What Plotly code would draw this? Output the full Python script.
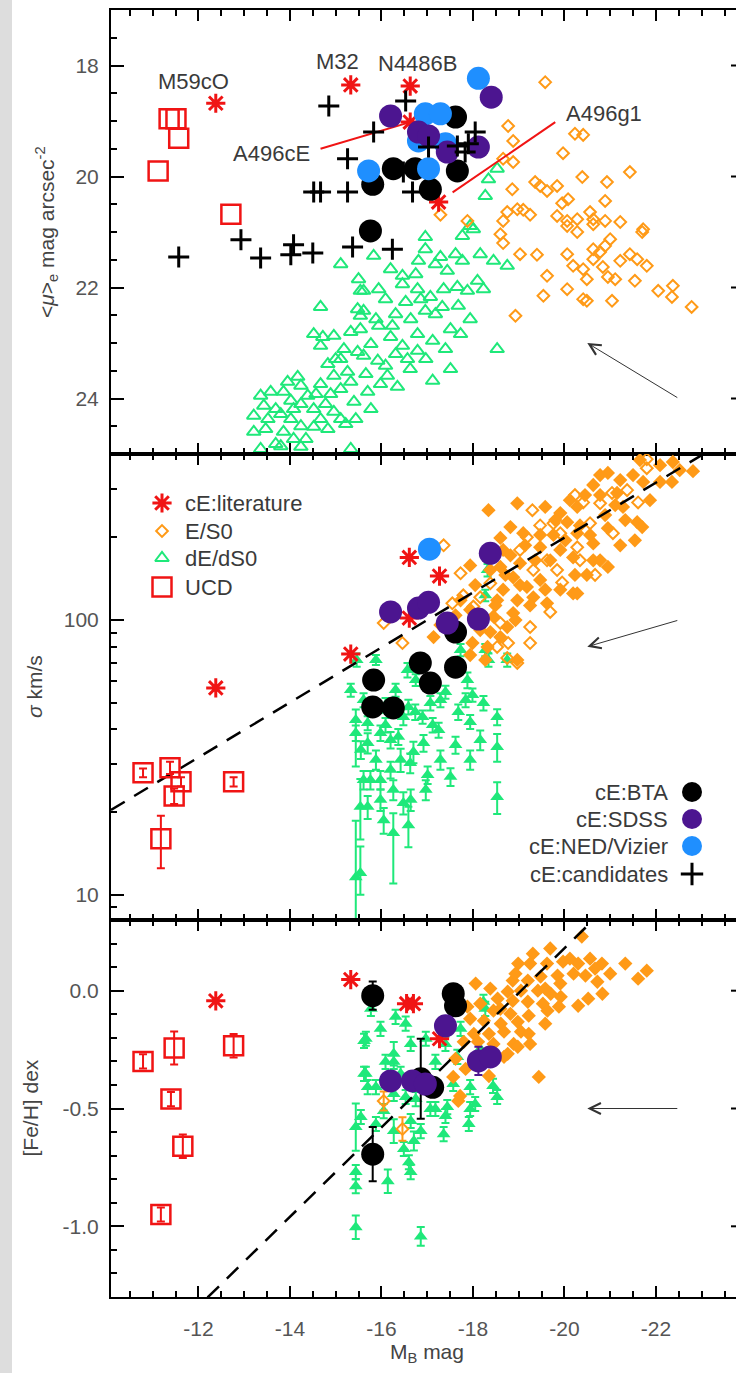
import math
import plotly.graph_objects as go

FIG_W, FIG_H = 736, 1373
FONT = "Liberation Sans, Arial, Helvetica, sans-serif"

RED = "#f01414"
ORANGE = "#ff9a17"
GREEN = "#1fe87a"
PURPLE = "#4c1590"
BLUE = "#1f8fff"
BLACK = "#000000"
TEXT = "#3a3a3a"
TICKTEXT = "#555555"

# ------------------------------------------------------------------
# Panel 1: mean effective surface brightness <mu>_e vs M_B
# ------------------------------------------------------------------
top_ucd_mb = [-11.36, -11.51, -11.57, -11.12, -12.71]
top_ucd_mu = [18.96, 18.96, 19.31, 19.90, 20.68]

top_lit_names = ["M59cO", "M32", "N4486B", "A496cE", "A496g1"]
top_lit_mb = [-12.38, -15.33, -16.63, -16.63, -17.25]
top_lit_mu = [18.68, 18.35, 18.37, 19.02, 20.46]

top_es0_mb = [-19.58, -18.77, -20.23, -20.41, -18.88, -19.97, -18.66, -18.88, -21.43, -20.39,
              -20.93, -19.36, -19.47, -19.62, -19.84, -18.86, -19.95, -20.08, -20.89, -17.29,
              -17.88, -18.75, -18.97, -19.10, -19.25, -19.84, -20.06, -20.28, -20.56, -20.63,
              -20.89, -21.22, -21.72, -18.66, -20.06, -20.28, -20.63, -21.70, -18.60, -18.66,
              -19.03, -19.40, -20.06, -20.19, -20.41, -20.63, -20.78, -20.89, -21.00, -20.63,
              -20.84, -20.95, -21.11, -21.22, -21.43, -21.59, -21.80, -19.62, -20.49, -21.54,
              -20.06, -19.54, -20.41, -20.49, -21.04, -22.05, -22.37, -22.35, -22.78, -18.93]
top_es0_mu = [18.30, 19.09, 19.23, 19.25, 19.36, 19.58, 19.68, 19.74, 19.92, 20.01,
              20.10, 20.10, 20.17, 20.26, 20.17, 20.23, 20.48, 20.41, 20.44, 20.69,
              20.80, 20.64, 20.59, 20.60, 20.69, 20.71, 20.80, 20.77, 20.64, 20.77,
              20.80, 20.82, 20.95, 20.80, 20.89, 21.00, 20.86, 21.00, 21.04, 21.20,
              21.40, 21.41, 21.40, 21.61, 21.67, 21.31, 21.36, 21.25, 21.13, 21.49,
              21.63, 21.81, 21.85, 21.52, 21.40, 21.49, 21.61, 21.79, 21.85, 21.88,
              22.03, 22.15, 22.21, 22.24, 22.24, 22.06, 21.97, 22.17, 22.35, 22.51]

top_de_mb = [-15.83, -16.96, -16.96, -17.77, -18.01, -17.77, -18.16, -18.45, -18.75, -17.44,
             -16.46, -16.46, -15.94, -15.61, -16.79, -17.07, -17.36, -17.66, -17.88, -18.10,
             -18.23, -16.53, -16.96, -17.33, -17.68, -17.94, -15.61, -15.94, -16.24, -16.20,
             -16.79, -17.12, -16.46, -16.79, -16.57, -15.61, -15.92, -16.09, -16.63, -16.13,
             -16.35, -17.51, -17.12, -18.53, -15.70, -18.34, -18.27, -18.53, -17.94, -15.11,
             -14.67, -15.50, -15.54, -15.48, -15.54, -14.52, -14.72, -14.96, -14.67, -15.33,
             -15.54, -15.18, -15.48, -14.83, -15.11, -14.96, -15.26, -14.67, -15.11, -15.33,
             -15.40, -14.17, -13.95, -14.24, -13.36, -13.58, -13.86, -13.43, -14.02, -14.39,
             -13.21, -13.52, -13.80, -14.08, -14.52, -14.67, -14.96, -15.11, -14.24, -14.52,
             -14.83, -13.21, -13.86, -14.08, -13.36, -13.80, -14.24, -15.33, -17.29, -16.81,
             -13.47, -13.69, -14.02, -14.35, -14.57, -14.78, -14.89, -15.22, -15.44, -15.00,
             -15.66, -15.77, -15.88, -16.09, -16.31, -16.64, -16.86, -17.18, -17.51, -17.40,
             -17.73, -16.97, -16.31, -15.98, -15.77, -16.75, -17.18, -17.62, -16.20, -14.24,
             -13.69]
top_de_mu = [21.43, 21.09, 21.31, 21.07, 20.95, 21.52, 21.40, 21.52, 21.61, 21.70,
             21.79, 21.94, 22.03, 22.06, 22.03, 22.17, 22.03, 21.99, 22.06, 21.88,
             22.03, 22.26, 22.42, 22.35, 22.33, 22.57, 22.42, 22.69, 22.69, 22.89,
             22.84, 22.96, 23.05, 23.14, 23.29, 23.23, 23.32, 23.41, 23.47, 23.59,
             23.79, 23.47, 23.68, 23.11, 23.88, 20.05, 20.35, 19.86, 20.89, 21.58,
             22.35, 21.85, 22.06, 22.39, 22.51, 22.84, 22.89, 22.87, 23.05, 22.80,
             22.75, 23.11, 23.16, 23.38, 23.29, 23.59, 23.52, 23.74, 23.83, 23.70,
             24.06, 23.61, 23.70, 23.77, 23.95, 23.88, 23.88, 24.13, 24.04, 23.95,
             24.31, 24.37, 24.28, 24.19, 24.19, 24.37, 24.24, 24.37, 24.50, 24.51,
             24.55, 24.60, 24.60, 24.73, 24.91, 24.86, 24.87, 24.91, 21.45, 21.52,
             24.55, 24.19, 24.37, 24.73, 23.92, 24.10, 23.92, 24.46, 24.37, 23.29,
             23.56, 23.02, 22.57, 22.21, 22.48, 22.57, 22.21, 22.48, 22.75, 23.11,
             22.84, 23.29, 23.20, 23.74, 24.19, 21.76, 21.58, 21.40, 21.67, 24.10,
             24.82]

top_bta_mb = [-17.62, -17.66, -17.07, -16.26, -16.74, -15.81, -15.76]
top_bta_mu = [18.93, 19.90, 20.23, 19.86, 19.86, 20.14, 20.98]

top_sdss_mb = [-18.40, -16.20, -16.81, -17.03, -17.44, -18.12]
top_sdss_mu = [18.57, 18.91, 19.20, 19.27, 19.56, 19.47]

top_ned_mb = [-18.12, -16.96, -17.29, -16.81, -17.40, -15.72, -17.03]
top_ned_mu = [18.23, 18.87, 18.87, 19.36, 19.41, 19.90, 19.86]

top_cand_mb = [-14.85, -15.26, -14.52, -14.67, -15.26, -16.53, -15.83, -18.05, -17.03, -17.66,
               -17.83, -17.90, -16.68, -16.48, -11.57, -12.93, -13.36, -14.08, -14.02, -14.50,
               -15.37, -16.24]
top_cand_mu = [18.73, 19.68, 20.28, 20.28, 20.28, 18.64, 19.20, 19.20, 19.47, 19.45,
               19.56, 19.41, 20.28, 19.92, 21.45, 21.14, 21.47, 21.23, 21.41, 21.38,
               21.27, 21.31]

# ------------------------------------------------------------------
# Panel 2: central velocity dispersion sigma (km/s) vs M_B
# ------------------------------------------------------------------
sig_ucd_mb = [-10.79, -11.38, -11.62, -11.47, -12.77, -11.18]
sig_ucd = [27.8, 29.0, 25.8, 22.9, 25.8, 16.0]
sig_ucd_ep = [1.0, 1.5, 1.0, 1.5, 1.0, 3.4]
sig_ucd_em = [1.0, 1.5, 1.0, 1.5, 1.0, 3.5]

sig_lit_mb = [-12.38, -15.33, -16.61, -17.27, -16.61]
sig_lit = [56.6, 75.2, 169, 144.5, 101.7]

sig_es0o_mb = [-21.80, -19.30, -20.23, -20.41, -17.73, -16.46, -16.05, -17.55, -17.79, -18.01,
               -19.69, -19.25, -19.25, -19.95, -20.67, -18.75, -20.28, -19.76, -19.47, -21.06,
               -21.61, -17.36, -18.97, -18.77, -18.53, -18.60, -18.16, -18.38, -19.84, -20.34,
               -19.62, -19.32, -19.03, -19.18, -19.91, -20.56, -20.78, -21.04, -21.37, -21.80]
sig_es0o = [385, 251, 285, 268, 148, 82.5, 97.5, 115, 123, 112,
            107, 94.3, 82.5, 137, 146, 72.8, 184, 225, 221, 207,
            268, 187, 69.8, 82.5, 79.8, 97.5, 121, 136, 152, 165,
            165, 152, 180, 200, 207, 225, 266, 290, 297, 357]

sig_es0f_mb = [-18.34, -18.97, -19.58, -20.95, -21.50, -21.72, -22.37, -22.81, -22.35, -22.09,
               -20.63, -20.78, -21.15, -21.28, -21.59, -21.70, -20.95, -20.28, -19.91, -20.06,
               -19.76, -20.28, -20.63, -18.82, -19.10, -18.60, -18.66, -19.47, -19.91, -20.19,
               -20.63, -20.95, -20.49, -19.03, -18.60, -18.88, -19.47, -19.91, -19.18, -18.66,
               -18.53, -18.97, -19.32, -19.62, -20.19, -18.88, -18.45, -18.75, -18.38, -18.60,
               -17.99, -18.32, -18.97, -20.28, -17.44, -17.14, -17.94,
               -17.94, -18.16, -18.49, -18.71, -19.03, -19.36, -19.14, -19.69, -20.02, -20.34,
               -20.56, -20.89, -21.11, -21.33, -21.87, -22.09, -22.52, -21.22, -20.45, -20.12,
               -19.80, -19.47, -18.82, -18.38, -18.05, -17.73, -17.62, -18.93, -19.25, -19.58,
               -20.23, -20.78, -21.22, -21.54, -17.94, -18.27, -17.29, -20.78, -21.65]
sig_es0f = [251, 266, 258, 343, 337, 318, 376, 348, 318, 318,
            310, 285, 290, 258, 227, 218, 216, 258, 245, 227,
            204, 207, 190, 218, 207, 199, 180, 184, 180, 169,
            165, 156, 146, 161, 156, 143, 140, 129, 132, 129,
            118, 118, 121, 115, 125, 106, 103, 94.3, 90.4, 86.7,
            82.5, 79.8, 71.6, 125, 93.5, 86.7, 158,
            109, 92, 113, 146, 134, 165, 187, 165, 195, 221,
            204, 241, 262, 231, 273, 366, 351, 323, 285, 273,
            231, 204, 172, 152, 134, 118, 104, 100, 113, 129,
            146, 165, 187, 195, 74.6, 71.6, 96, 337, 382]

sig_de_mb = [-15.44, -15.44, -15.61, -15.54, -15.44, -15.70, -15.70, -15.98, -16.09, -16.20,
             -16.48, -16.59, -16.74, -16.90, -17.07, -17.12, -17.25, -17.40, -17.68, -17.94,
             -17.99, -18.23, -18.53, -18.53, -18.53, -17.51, -17.01, -16.63, -16.42, -16.20,
             -15.98, -15.76, -16.26, -15.98, -16.48, -15.70, -16.05, -16.59, -16.26, -15.54,
             -16.70, -16.92, -16.37, -17.73, -18.27, -18.34, -18.75, -16.57, -17.88, -18.32,
             -18.27, -15.46, -15.61,
             -15.88, -16.31, -16.75, -17.29, -17.62, -17.94, -17.29, -16.97, -16.64, -15.88,
             -15.55, -18.16, -17.84, -15.33, -16.09]
sig_de = [43.3, 38.8, 26.2, 20.9, 11.6, 42.2, 35.7, 38.8, 41.5, 36.6,
          44.4, 48.3, 46.3, 44.4, 49.9, 41.5, 39.8, 54.7, 46.3, 42.6,
          53.4, 49.9, 44.4, 34.5, 22.7, 26.9, 27.3, 30.2, 31.0, 28.5,
          26.2, 26.2, 24.1, 22.2, 21.6, 20.9, 18.7, 17.9, 16.8, 12.0,
          33.1, 35.7, 37.6, 77.8, 77.8, 71.6, 71.6, 65.8, 60.5, 152,
          123, 71.6, 51.2,
          71.6, 55.6, 60.5, 51.2, 35.1, 31.0, 31.0, 24.1, 22.2, 31.0,
          33.7, 36.6, 51.2, 55.6, 49.0]
sig_de_ep = [4, 2.5, 2, 5.5, 7, 2.5, 3, 2.5, 2.5, 2.5,
             3, 3, 3, 2.5, 3, 2.5, 2.5, 3, 3, 2.5,
             3, 3, 3, 4, 3, 2, 2, 2.5, 3, 2,
             2, 2, 2, 2, 2, 2, 2, 3, 3, 3,
             3, 2.5, 2.5, 4, 4, 4, 4, 4, 4, 8,
             6, 4, 3,
             3, 3, 3, 3, 2.5, 2.5, 2.5, 2, 2, 2.5,
             2.5, 3, 3, 3, 3]
sig_de_em = [14, 2.5, 2, 5, 5, 2.5, 3, 2.5, 2.5, 2.5,
             3, 3, 3, 2.5, 3, 2.5, 2.5, 3, 3, 2.5,
             3, 3, 3, 4, 3, 2, 2, 2.5, 3, 2,
             2, 2, 2, 2, 2, 2, 2, 3, 5.8, 2,
             3, 2.5, 2.5, 4, 4, 4, 4, 4, 4, 8,
             6, 4, 3,
             3, 3, 3, 3, 2.5, 2.5, 2.5, 2, 2, 2.5,
             2.5, 3, 3, 3, 3]

sig_bta_mb = [-17.62, -16.85, -17.62, -17.07, -15.83, -15.81, -16.26]
sig_bta = [90.4, 69.8, 67.4, 59.0, 60.5, 48.3, 47.9]

sig_sdss_mb = [-16.20, -16.81, -17.03, -17.44, -18.12, -18.38]
sig_sdss = [107, 110.6, 116, 97.5, 100.8, 175]

sig_ned_mb = [-17.05]
sig_ned = [181]

# Faber-Jackson style relation: log10(sigma) = FJ_SLOPE * M_B + FJ_ZERO
FJ_SLOPE, FJ_ZERO = -0.1, 0.30
fj_mb = [-10.09, -23.04]

# ------------------------------------------------------------------
# Panel 3: metallicity [Fe/H] vs M_B
# ------------------------------------------------------------------
feh_ucd_mb = [-10.79, -11.47, -12.77, -11.40, -11.66, -11.18]
feh_ucd = [-0.30, -0.243, -0.234, -0.46, -0.66, -0.95]
feh_ucd_err = [0.03, 0.07, 0.05, 0.03, 0.05, 0.03]

feh_lit_mb = [-12.38, -15.33, -16.55, -16.70, -17.27]
feh_lit = [-0.043, 0.047, -0.055, -0.055, -0.204]

feh_es0f_mb = [-20.38, -19.31, -18.99, -19.62, -19.97, -20.30, -20.82, -20.67, -21.80, -21.61,
               -18.06, -18.87, -19.20, -19.48, -19.85, -20.20, -20.46, -20.72, -20.83, -18.76,
               -19.05, -19.42, -19.70, -19.92, -18.54, -18.87, -19.20, -19.53, -19.88, -20.30,
               -20.52, -18.45, -18.82, -19.22, -19.63, -18.24, -18.61, -18.98, -18.35, -18.68,
               -19.05, -19.22, -18.02, -17.80, -18.11, -18.45, -18.89, -18.68, -18.98, -18.43,
               -18.76, -18.35, -19.44, -17.57, -17.72, -17.68, -17.88,
               -18.38, -18.60, -18.93, -19.25, -19.58, -19.91, -20.12, -20.56, -21.00, -21.33,
               -18.16, -17.94, -19.25, -19.58, -17.62, -17.84, -19.69]
feh_es0f = [0.230, 0.157, 0.115, 0.115, 0.123, 0.115, 0.115, 0.094, 0.085, 0.051,
            0.030, 0.043, 0.043, 0.060, 0.064, 0.072, 0.064, 0.038, -0.013, -0.004,
            0.0, 0.0, -0.013, -0.026, -0.034, -0.043, -0.047, -0.055, -0.068, -0.064,
            -0.034, -0.085, -0.098, -0.106, -0.085, -0.128, -0.140, -0.132, -0.183, -0.174,
            -0.174, -0.183, -0.183, -0.217, -0.217, -0.226, -0.226, -0.281, -0.238, -0.260,
            -0.268, -0.362, -0.366, -0.366, -0.447, -0.468, -0.068,
            0.009, -0.077, 0.072, 0.115, 0.009, 0.030, 0.136, 0.136, 0.072, 0.115,
            -0.055, -0.119, -0.226, -0.140, -0.289, -0.332, 0.179]

feh_es0o_mb = [-16.05, -16.46]
feh_es0o = [-0.468, -0.587]
feh_es0o_err = [0.04, 0.05]

feh_de_mb = [-16.31, -16.53, -15.66, -16.27, -15.66, -16.09, -17.18, -16.27, -15.70, -15.88,
             -16.27, -16.53, -16.75, -17.18, -17.44, -17.57, -17.94, -18.44, -18.53, -17.94,
             -18.23, -18.27, -17.66, -15.55, -16.05, -16.27, -16.64, -16.86, -16.71, -16.49,
             -17.36, -17.91, -17.40, -16.14, -16.60, -16.64, -16.86, -15.62, -15.62, -15.44,
             -15.44, -15.44, -15.44, -15.88,
             -15.77, -15.98, -16.64, -16.97, -17.40, -17.73, -16.42, -17.07, -18.16, -18.05]
feh_de = [-0.111, -0.140, -0.204, -0.268, -0.353, -0.302, -0.302, -0.302, -0.409, -0.409,
          -0.438, -0.451, -0.460, -0.502, -0.494, -0.396, -0.409, -0.404, -0.451, -0.502,
          -0.047, -0.077, -0.281, -0.536, -0.511, -0.596, -0.553, -0.596, -0.638, -0.672,
          -0.609, -0.566, -0.532, -0.809, -0.728, -0.770, -1.043, -0.213, -0.353, -0.579,
          -0.770, -0.830, -1.004, -0.566,
          -0.077, -0.162, -0.226, -0.204, -0.226, -0.162, -0.353, -0.502, -0.247, -0.481]
feh_de_err = [0.03, 0.03, 0.03, 0.05, 0.03, 0.03, 0.03, 0.03, 0.03, 0.03,
              0.03, 0.03, 0.03, 0.03, 0.03, 0.03, 0.03, 0.03, 0.03, 0.03,
              0.03, 0.03, 0.03, 0.03, 0.03, 0.05, 0.03, 0.03, 0.04, 0.03,
              0.03, 0.03, 0.03, 0.05, 0.03, 0.03, 0.04, 0.03, 0.03, 0.10,
              0.03, 0.03, 0.05, 0.03,
              0.03, 0.03, 0.03, 0.03, 0.03, 0.03, 0.03, 0.03, 0.03, 0.03]

feh_bta_mb = [-15.81, -17.57, -17.62, -16.86, -17.12, -15.81]
feh_bta = [-0.021, -0.013, -0.064, -0.374, -0.41, -0.694]
feh_bta_err = [0.06, 0.04, 0.03, 0.17, 0.03, 0.115]

feh_sdss_mb = [-17.40, -16.20, -16.68, -16.96, -18.12, -18.38]
feh_sdss = [-0.149, -0.383, -0.383, -0.396, -0.298, -0.281]
feh_sdss_err = [0.0, 0.0, 0.0, 0.0, 0.06, 0.0]

# Mass-metallicity style relation: [Fe/H] = MZ_SLOPE * M_B + MZ_ZERO
MZ_SLOPE, MZ_ZERO = -0.19, -3.62
mz_mb = [-12.2, -20.75]

# Axis ticks
X_TICKS = [-12, -14, -16, -18, -20, -22]
MU_TICKS = [18, 20, 22, 24]
SIG_TICKS = [10, 100]
SIG_MINOR = [9, 20, 30, 40, 50, 60, 70, 80, 90, 200, 300, 400]
FEH_TICKS = [-1.0, -0.5, 0.0]

# ------------------------------------------------------------------
# Layout geometry (pixels in the 736 x 1373 page)
# ------------------------------------------------------------------
PLOT_LEFT_PX = 111
PANEL_EDGES_PX = [10, 454, 920, 1297]
X_RANGE = [-10.09, -23.75]


def ydom(top_px, bottom_px):
    return [1 - bottom_px / FIG_H, 1 - top_px / FIG_H]


def px(x):
    return x / FIG_W


def py(y):
    return 1 - y / FIG_H


# Marker styles per class
STYLE = {
    "ucd": dict(symbol="square-open", size=19, color=RED, line=dict(width=2.5, color=RED)),
    "lit": dict(symbol="asterisk-open", size=16, color=RED, line=dict(width=3, color=RED)),
    "es0o": dict(symbol="diamond-open", size=9, color=ORANGE, line=dict(width=2, color=ORANGE)),
    "es0f": dict(symbol="diamond", size=11, color=ORANGE, line=dict(width=0)),
    "deo": dict(symbol="triangle-up-open", size=12, color=GREEN, line=dict(width=2, color=GREEN)),
    "def": dict(symbol="triangle-up", size=12, color=GREEN, line=dict(width=0)),
    "bta": dict(symbol="circle", size=23, color=BLACK, line=dict(width=0)),
    "sdss": dict(symbol="circle", size=23, color=PURPLE, line=dict(width=0)),
    "ned": dict(symbol="circle", size=23, color=BLUE, line=dict(width=0)),
    "cand": dict(symbol="cross-thin-open", size=15, color=BLACK, line=dict(width=3, color=BLACK)),
}


def pts(x, y, panel, style, ep=None, em=None, err_color=None):
    axn = "" if panel == 1 else str(panel)
    tr = go.Scatter(
        x=x, y=y, mode="markers", xaxis="x" + axn, yaxis="y" + axn,
        marker=STYLE[style], showlegend=False, hoverinfo="x+y",
        cliponaxis=True,
    )
    if ep is not None:
        tr.error_y = dict(type="data", array=ep, arrayminus=em if em is not None else ep,
                          color=err_color or STYLE[style]["color"], thickness=2, width=4)
    return tr


fig = go.Figure()

# ---- panel 1 ----
fig.add_trace(pts(top_de_mb, top_de_mu, 1, "deo"))
fig.add_trace(pts(top_es0_mb, top_es0_mu, 1, "es0o"))
fig.add_trace(pts(top_ucd_mb, top_ucd_mu, 1, "ucd"))

# label connectors for the two Abell 496 objects
CONNECTORS = {"A496cE": ((-14.67, 19.50), 1.0), "A496g1": ((-19.80, 19.02), 0.88)}
for name, (start, reach) in CONNECTORS.items():
    i = top_lit_names.index(name)
    end = (start[0] + reach * (top_lit_mb[i] - start[0]),
           start[1] + reach * (top_lit_mu[i] - start[1]))
    fig.add_trace(go.Scatter(x=[start[0], end[0]], y=[start[1], end[1]], mode="lines",
                             line=dict(color=RED, width=2), xaxis="x", yaxis="y",
                             showlegend=False, hoverinfo="skip"))

fig.add_trace(pts(top_lit_mb, top_lit_mu, 1, "lit"))
fig.add_trace(pts(top_bta_mb, top_bta_mu, 1, "bta"))
fig.add_trace(pts(top_ned_mb, top_ned_mu, 1, "ned"))
fig.add_trace(pts(top_sdss_mb, top_sdss_mu, 1, "sdss"))
fig.add_trace(pts(top_cand_mb, top_cand_mu, 1, "cand"))

# ---- panel 2 ----
fig.add_trace(pts(sig_de_mb, sig_de, 2, "def", sig_de_ep, sig_de_em))
fig.add_trace(pts(sig_es0o_mb, sig_es0o, 2, "es0o"))
fig.add_trace(pts(sig_es0f_mb, sig_es0f, 2, "es0f"))
fig.add_trace(go.Scatter(x=fj_mb, y=[10 ** (FJ_SLOPE * m + FJ_ZERO) for m in fj_mb],
                         mode="lines", line=dict(color=BLACK, width=2.5, dash="16px,11px"),
                         xaxis="x2", yaxis="y2", showlegend=False, hoverinfo="skip"))
fig.add_trace(pts(sig_ucd_mb, sig_ucd, 2, "ucd", sig_ucd_ep, sig_ucd_em))
fig.add_trace(pts(sig_lit_mb, sig_lit, 2, "lit"))
fig.add_trace(pts(sig_bta_mb, sig_bta, 2, "bta"))
fig.add_trace(pts(sig_ned_mb, sig_ned, 2, "ned"))
fig.add_trace(pts(sig_sdss_mb, sig_sdss, 2, "sdss"))

# ---- panel 3 ----
fig.add_trace(pts(feh_de_mb, feh_de, 3, "def", feh_de_err))
fig.add_trace(pts(feh_es0o_mb, feh_es0o, 3, "es0o", feh_es0o_err))
fig.add_trace(pts(feh_es0f_mb, feh_es0f, 3, "es0f"))
fig.add_trace(go.Scatter(x=mz_mb, y=[MZ_SLOPE * m + MZ_ZERO for m in mz_mb],
                         mode="lines", line=dict(color=BLACK, width=2.5, dash="16px,11px"),
                         xaxis="x3", yaxis="y3", showlegend=False, hoverinfo="skip"))
fig.add_trace(pts(feh_ucd_mb, feh_ucd, 3, "ucd", feh_ucd_err))
fig.add_trace(pts(feh_lit_mb, feh_lit, 3, "lit"))
fig.add_trace(pts(feh_bta_mb, feh_bta, 3, "bta", feh_bta_err, err_color=BLACK))
fig.add_trace(pts(feh_sdss_mb, feh_sdss, 3, "sdss", feh_sdss_err))

# ---- legends drawn on a full-page pixel canvas (x4/y4) ----
LEGEND_LEFT = dict(sym_x=162, text_x=183, rows=[503, 531, 558, 587])
LEGEND_RIGHT = dict(sym_x=692, text_x=670, rows=[792, 819, 846, 874])
left_items = [("lit", "cE:literature", 16), ("es0o", "E/S0", 9),
              ("deo", "dE/dS0", 12), ("ucd", "UCD", 19)]
right_items = [("bta", "cE:BTA", 20), ("sdss", "cE:SDSS", 20),
               ("ned", "cE:NED/Vizier", 20), ("cand", "cE:candidates", 16)]

annotations = []
for spec, items, side in [(LEGEND_LEFT, left_items, "left"), (LEGEND_RIGHT, right_items, "right")]:
    for (style, label, size), row in zip(items, spec["rows"]):
        m = dict(STYLE[style])
        m["size"] = size
        fig.add_trace(go.Scatter(x=[spec["sym_x"]], y=[row], mode="markers", marker=m,
                                 xaxis="x4", yaxis="y4", showlegend=False, hoverinfo="skip"))
        annotations.append(dict(x=spec["text_x"], y=row, xref="x4", yref="y4", text=label,
                                showarrow=False, xanchor=side, yanchor="middle",
                                font=dict(family=FONT, size=22, color=TEXT)))

# ---- object labels in panel 1 ----
LABEL_POS = {"M59cO": (-11.89, 18.28), "M32": (-15.04, 17.92), "N4486B": (-16.81, 17.97),
             "A496cE": (-13.60, 19.59), "A496g1": (-20.87, 18.87)}
for name in top_lit_names:
    lx, ly = LABEL_POS[name]
    annotations.append(dict(x=lx, y=ly, xref="x", yref="y", text=name, showarrow=False,
                            xanchor="center", yanchor="middle",
                            font=dict(family=FONT, size=22, color=TEXT)))

# ---- reference vectors ----
VEC_MB = (-22.5, -20.5)
vectors = [("x", "y", (24.0, 23.0)),
           ("x2", "y2", (math.log10(100), math.log10(80))),
           ("x3", "y3", (-0.5, -0.5))]
for xr, yr, (y_tail, y_head) in vectors:
    annotations.append(dict(x=VEC_MB[1], y=y_head, ax=VEC_MB[0], ay=y_tail,
                            xref=xr, yref=yr, axref=xr, ayref=yr, text="",
                            showarrow=True, arrowhead=5, arrowsize=2.2, arrowwidth=1,
                            arrowcolor="#333333"))

# ---- axis titles ----
title_font = dict(family=FONT, size=21, color="#444444")
annotations += [
    dict(x=px(46), y=py((PANEL_EDGES_PX[0] + PANEL_EDGES_PX[1]) / 2), xref="paper", yref="paper",
         text="&lt;<i>\u03bc</i>&gt;<sub>e</sub> mag arcsec<sup>-2</sup>", textangle=-90,
         showarrow=False, xanchor="center", yanchor="middle", font=title_font),
    dict(x=px(34), y=py((PANEL_EDGES_PX[1] + PANEL_EDGES_PX[2]) / 2), xref="paper", yref="paper",
         text="<i>\u03c3</i> km/s", textangle=-90,
         showarrow=False, xanchor="center", yanchor="middle", font=title_font),
    dict(x=px(30), y=py((PANEL_EDGES_PX[2] + PANEL_EDGES_PX[3]) / 2), xref="paper", yref="paper",
         text="[Fe/H] dex", textangle=-90,
         showarrow=False, xanchor="center", yanchor="middle", font=title_font),
    dict(x=px(427), y=py(1353), xref="paper", yref="paper",
         text="M<sub>B</sub> mag", showarrow=False, xanchor="center", yanchor="middle",
         font=title_font),
]

# ---- shapes: page strip and right-hand tick stubs ----
shapes = [dict(type="rect", xref="paper", yref="paper", x0=0, x1=px(12), y0=0, y1=1,
               fillcolor="#dddddd", line=dict(width=0), layer="below")]
for yr, vals in [("y", MU_TICKS), ("y2", [math.log10(v) for v in SIG_TICKS]), ("y3", FEH_TICKS)]:
    for v in vals:
        shapes.append(dict(type="line", xref="paper", yref=yr, x0=px(731), x1=1, y0=v, y1=v,
                           line=dict(color="black", width=2)))

tickfont = dict(family=FONT, size=21, color=TICKTEXT)
minor_common = dict(ticks="inside", ticklen=6, tickwidth=2, tickcolor="black", showgrid=False)


def xaxis(anchor, labels):
    return dict(domain=[px(PLOT_LEFT_PX), 1], range=X_RANGE, anchor=anchor,
                showline=True, linecolor="black", linewidth=2, mirror="ticks",
                ticks="inside", ticklen=11, tickwidth=2, tickcolor="black",
                tickvals=X_TICKS, ticktext=[f"-{abs(v)}" for v in X_TICKS],
                showticklabels=labels, tickfont=tickfont, ticklabelstandoff=12,
                minor=dict(dtick=0.5, tick0=0, **minor_common),
                showgrid=False, zeroline=False, fixedrange=True)


def yaxis_base(domain, anchor):
    return dict(domain=domain, anchor=anchor, showline=True, linecolor="black", linewidth=2,
                mirror=False, ticks="inside", ticklen=13, tickwidth=2, tickcolor="black",
                tickfont=tickfont, ticklabelstandoff=6, showgrid=False, zeroline=False,
                fixedrange=True)


y1 = yaxis_base(ydom(PANEL_EDGES_PX[0], PANEL_EDGES_PX[1]), "x")
y1.update(range=[25, 17], tickvals=MU_TICKS, ticktext=[str(v) for v in MU_TICKS],
          minor=dict(dtick=0.5, tick0=0, **minor_common))
y2 = yaxis_base(ydom(PANEL_EDGES_PX[1], PANEL_EDGES_PX[2]), "x2")
y2.update(type="log", range=[math.log10(8.1), math.log10(402)], tickvals=SIG_TICKS,
          ticktext=[str(v) for v in SIG_TICKS],
          minor=dict(tickmode="array", tickvals=SIG_MINOR, **minor_common))
y3 = yaxis_base(ydom(PANEL_EDGES_PX[2], PANEL_EDGES_PX[3]), "x3")
y3.update(range=[-1.3, 0.3], tickvals=FEH_TICKS, ticktext=["-1.0", "-0.5", "0.0"],
          minor=dict(dtick=0.1, tick0=0, **minor_common))

fig.update_layout(
    width=FIG_W, height=FIG_H,
    margin=dict(l=0, r=0, t=0, b=0),
    paper_bgcolor="white", plot_bgcolor="rgba(0,0,0,0)",
    showlegend=False,
    font=dict(family=FONT, color=TEXT),
    xaxis=xaxis("y", False), xaxis2=xaxis("y2", False), xaxis3=xaxis("y3", True),
    yaxis=y1, yaxis2=y2, yaxis3=y3,
    xaxis4=dict(domain=[0, 1], range=[0, FIG_W], visible=False, fixedrange=True, anchor="y4"),
    yaxis4=dict(domain=[0, 1], range=[FIG_H, 0], visible=False, fixedrange=True, anchor="x4"),
    annotations=annotations,
    shapes=shapes,
)

fig.write_html("out.html")
